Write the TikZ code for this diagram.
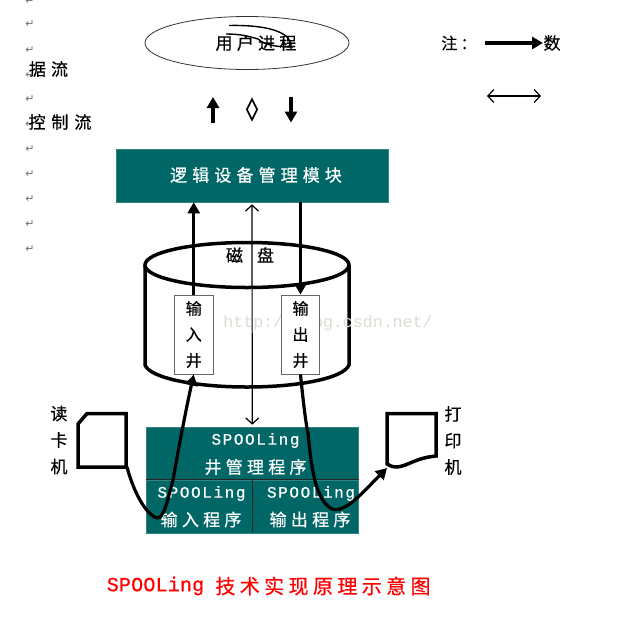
\documentclass[tikz,border=0pt]{standalone}
\usepackage{fontspec}
\usetikzlibrary{arrows.meta,shapes.geometric}
\newfontfamily\cjkfont[FakeBold=0.5]{Noto Sans CJK SC}
\newfontfamily\latinfont[FakeBold=0.7]{Liberation Mono}
\newfontfamily\markfont{Liberation Mono}
\newfontfamily\symfont{DejaVu Sans}
% size, letter spacing in percent, text
\newcommand{\ctxt}[3]{{\cjkfont\fontsize{#1}{#1}\selectfont\addfontfeature{LetterSpace=#2}#3}}
\newcommand{\ltxt}[3]{{\latinfont\fontsize{#1}{#1}\selectfont\addfontfeature{LetterSpace=#2}#3}}
\definecolor{teal}{HTML}{006666}
\definecolor{wmark}{HTML}{DDDCD4}
\tikzset{
  thickflow/.style={line width=3.2pt,-{Triangle[length=11pt,width=12pt]}},
  thinflow/.style={line width=1.2pt,{Straight Barb[length=6pt,width=13pt]}-{Straight Barb[length=6pt,width=13pt]}},
  devline/.style={line width=3.5pt},
  curveflow/.style={line width=3.2pt,-{Triangle[length=11pt,width=12pt]}},
  tealbox/.style={fill=teal,draw=teal!80!white,line width=.6pt,inner sep=0pt,text=white,align=center},
  wellbox/.style={draw=black!60,line width=1pt,fill=white,inner sep=0pt,minimum width=38.5pt,minimum height=79pt,align=center,font=\cjkfont\fontsize{16}{26}\selectfont},
  plain/.style={inner sep=0pt,align=center},
  sidelabel/.style={inner sep=0pt,align=center,font=\cjkfont\fontsize{17}{26.5}\selectfont},
  retmark/.style={inner sep=0pt,text=black!55,font=\symfont\fontsize{11}{11}\selectfont},
  divider/.style={line width=.8pt,black!85}
}
\begin{document}
\begin{tikzpicture}[x=1pt,y=-1pt]
\path[use as bounding box,fill=white] (0,0) rectangle (639,625);

% paragraph marks
\foreach \yy in {1,24,50,75,99,124,149,174,199,224,249}
  \node[retmark] (ret\yy) at (30,\yy) {↵};
\node[plain] (ju) at (48.5,69) {\ctxt{17}{30}{据流}};
\node[plain] (kong) at (60,122) {\ctxt{17}{35}{控制流}};

% user process
\node[draw=black!80,line width=.8pt,shape=ellipse,minimum width=204pt,minimum height=53pt,inner sep=0pt] (user) at (247,43) {};
\node[plain] (userlabel) at (256,43) {\ctxt{17}{25}{用户进程}};
\draw[line width=1.4pt] (229,25.5) .. controls (250,25) and (278,27) .. (288,38) .. controls (291,42) and (291,45) .. (288,47);
\draw[line width=1.4pt] (226,34) .. controls (240,34) and (248,36) .. (258,39) .. controls (265,45) and (275,47) .. (293,47);

% flow signs
\coordinate (upa) at (213,122.5);
\coordinate (upb) at (213,97);
\coordinate (dna) at (291,96.5);
\coordinate (dnb) at (291,122.5);
\draw[thickflow] (upa) -- (upb);
\draw[thickflow] (dna) -- (dnb);
\node[draw,line width=1.7pt,shape=diamond,minimum width=11pt,minimum height=21pt,inner sep=0pt] (ctrl) at (252,109.5) {};

% legend
\node[plain] (note) at (459,43) {\ctxt{16}{20}{注：}};
\coordinate (lega) at (485,43);
\coordinate (legb) at (543,43);
\draw[thickflow] (lega) -- (legb);
\node[plain] (shu) at (552,43) {\ctxt{17}{0}{数}};
\coordinate (legc) at (487,96);
\coordinate (legd) at (541,96);
\draw[thinflow] (legc) -- (legd);

% logical device module
\node[tealbox,minimum width=272pt,minimum height=53pt] (logic) at (252,175.5) {};
\node[plain,text=white] (logiclabel) at (256,175) {\ctxt{17}{30}{逻辑设备管理模块}};

% disk
\draw[devline] (247,265) ellipse[x radius=102,y radius=22.5];
\draw[devline] (145,265) -- (145,365) .. controls (150,378) and (195,387) .. (247,387) .. controls (299,387) and (344,378) .. (349,365) -- (349,265);
\node[plain] (disk) at (250,255) {\ctxt{17}{0}{磁\hspace{14pt}盘}};

% watermark
\node[plain,text=wmark] (mark) at (328,323) {\markfont\fontsize{16.6}{16.6}\selectfont http://blog.csdn.net/};

% wells
\node[wellbox] (wellin) at (193.75,334.5) {输\\入\\井};
\node[wellbox] (wellout) at (300.5,334.5) {输\\出\\井};

% spooling program
\node[tealbox,minimum width=212.5pt,minimum height=53pt] (mgr) at (252.25,453.5) {};
\node[tealbox,minimum width=106pt,minimum height=53pt] (inprog) at (199,506.5) {};
\node[tealbox,minimum width=106.5pt,minimum height=53pt] (outprog) at (305.25,506.5) {};
\draw[divider] (inprog.north west) -- (outprog.north east);
\draw[divider] (inprog.north east) -- (inprog.south east);
\node[plain,text=white] (mgr1) at (255.5,440.5) {\ltxt{16}{10}{SPOOLing}};
\node[plain,text=white] (mgr2) at (255.5,467) {\ctxt{17}{25}{井管理程序}};
\node[plain,text=white] (in1) at (201.5,493.5) {\ltxt{16}{10}{SPOOLing}};
\node[plain,text=white] (in2) at (201,519.5) {\ctxt{17}{25}{输入程序}};
\node[plain,text=white] (out1) at (311,493.5) {\ltxt{16}{10}{SPOOLing}};
\node[plain,text=white] (out2) at (310,519.5) {\ctxt{17}{25}{输出程序}};

% card reader and printer
\coordinate (readout) at (127,467);
\draw[devline,line join=miter] (87,413.5) -- (126,413.5) -- (126,467) -- (78,467) -- (78,424) -- cycle;
\coordinate (printin) at (387,468);
\draw[devline] (387,413.5) -- (436,413.5) -- (436,456) .. controls (415,458) and (408,466) .. (397,467) .. controls (393,467) and (390,466) .. (387,464) -- cycle;
\node[sidelabel] (readlabel) at (59,440) {读\\卡\\机};
\node[sidelabel] (printlabel) at (453,440.5) {打\\印\\机};

% data and control connectors
\draw[thickflow] (wellin.north) -- (wellin.north |- logic.south);
\draw[thickflow] (wellout.north |- logic.south) -- (wellout.north);
\draw[thinflow,shorten <=2pt,shorten >=2pt] (logic.south) -- (mgr.north);
\draw[curveflow] (readout) .. controls (133,490) and (145,514) .. (157,518) .. controls (164,519) and (168,498) .. (173,480) .. controls (180,440) and (188,400) .. (wellin.south);
\draw[curveflow] (wellout.south) .. controls (303,400) and (306,425) .. (308,433) .. controls (311,465) and (315,500) .. (332,509) .. controls (345,514) and (365,490) .. (printin);

% title
\node[plain,text=red] (title1) at (155.5,586) {\ltxt{20}{1}{SPOOLing}};
\node[plain,text=red] (title2) at (323,586) {\ctxt{20}{22}{技术实现原理示意图}};
\end{tikzpicture}
\end{document}
